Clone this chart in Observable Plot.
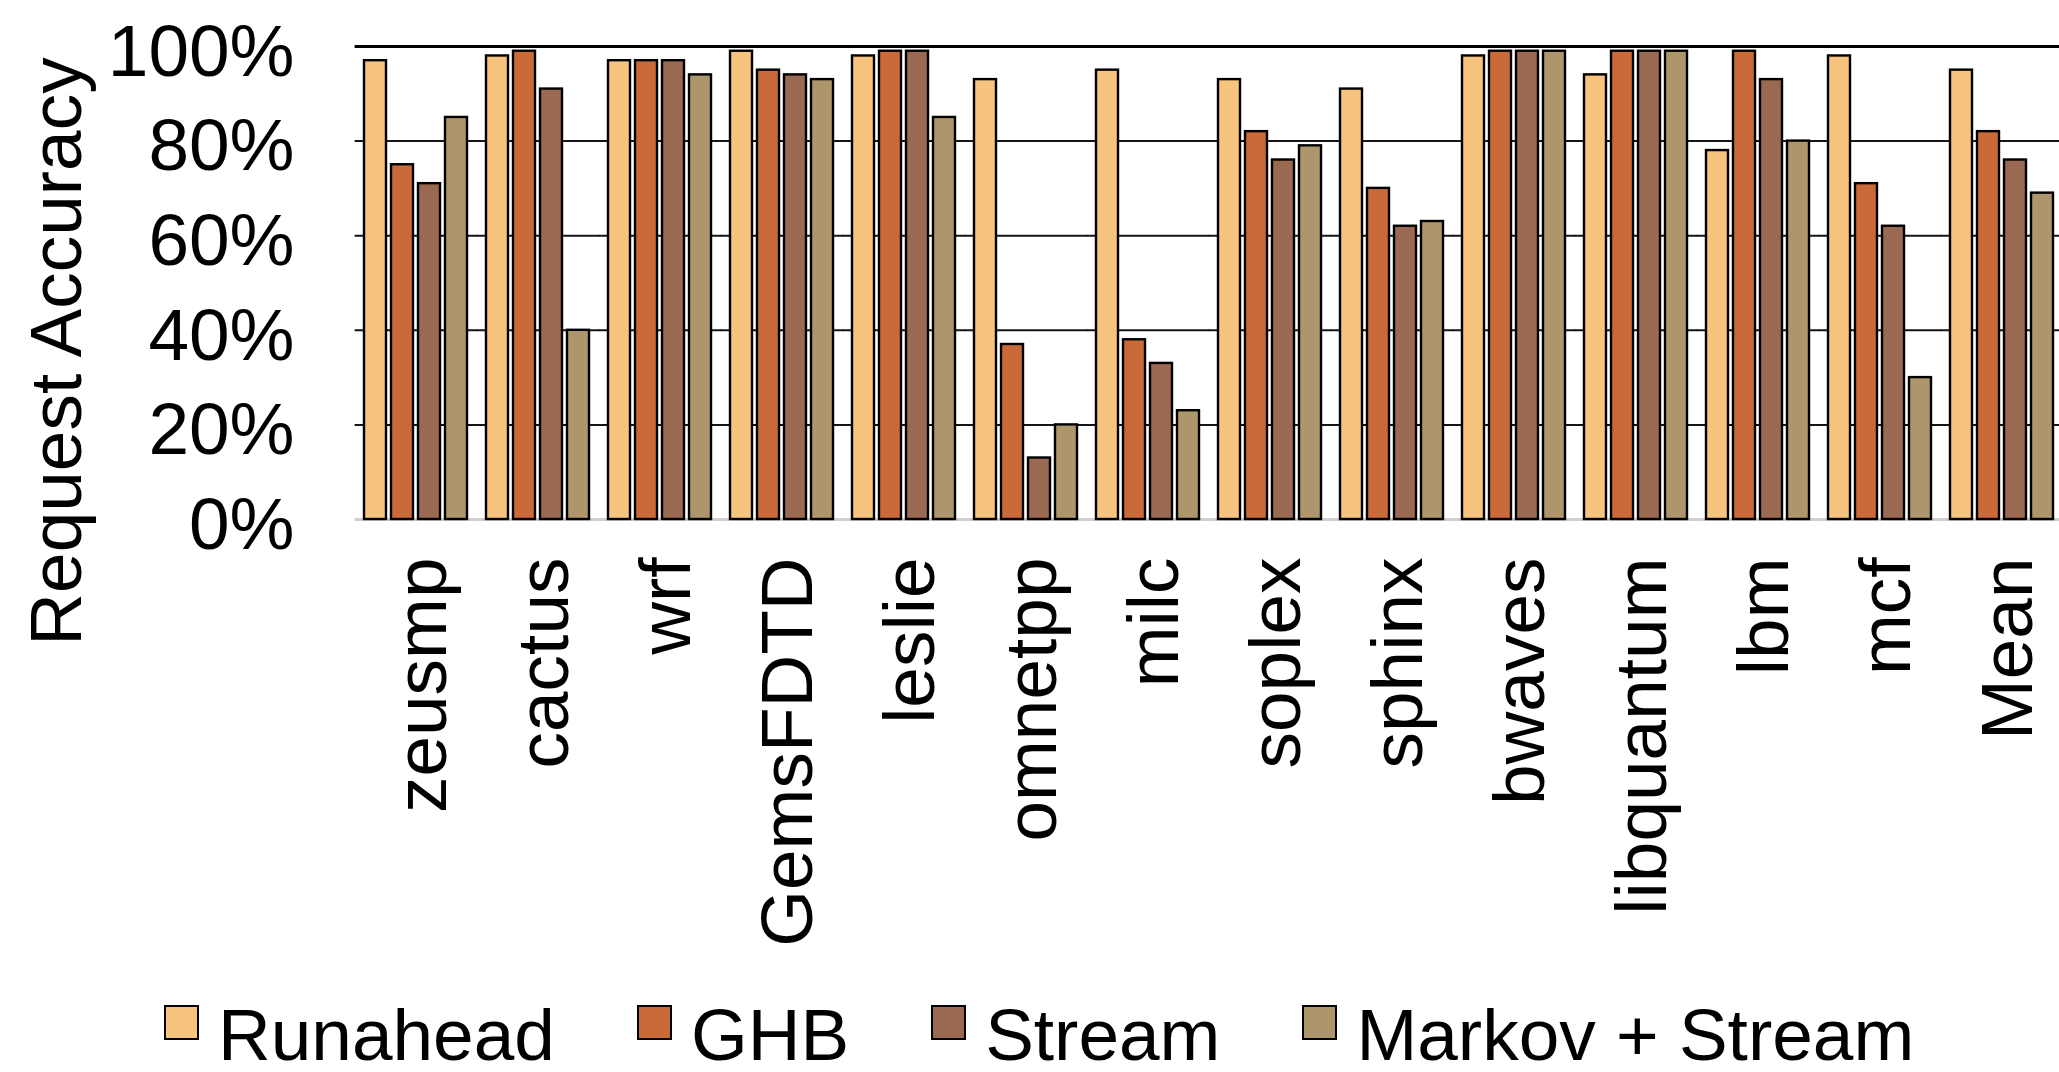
<!DOCTYPE html>
<html>
<head>
<meta charset="utf-8">
<script src="https://cdn.jsdelivr.net/npm/d3@7"></script>
<script src="https://cdn.jsdelivr.net/npm/@observablehq/plot@0.6"></script>
<style>
  html, body { margin: 0; padding: 0; background: #fff; overflow: hidden; }
  #wrap { position: relative; }
  #chart svg { display: block; max-width: none !important; }
  #ylabel { position: absolute; left: -295px; top: 314.5px; width: 700px; height: 73px; text-align: center;
            font-family: "Liberation Sans", Arial, Helvetica, sans-serif; font-size: 73px; line-height: 73px; color: #000;
            transform: rotate(-90deg); white-space: nowrap; }
  #legend { display: flex; align-items: flex-start; margin-left: 164px; margin-top: 8px;
            font-family: "Liberation Sans", Arial, Helvetica, sans-serif; font-size: 73px; line-height: 1; color: #000; gap: 82px; }
  #legend .item { display: flex; align-items: flex-start; white-space: nowrap; }
  #legend .sw { width: 31px; height: 31px; border: 2px solid #000; margin-top: 7px; margin-right: 19px; }
</style>
</head>
<body>
<div id="wrap">
  <div id="chart"></div>
  <div id="ylabel"></div>
</div>
<div id="legend"></div>
<script>
const benchmarks = ["zeusmp","cactus","wrf","GemsFDTD","leslie","omnetpp","milc","soplex","sphinx","bwaves","libquantum","lbm","mcf","Mean"];
const series = ["Runahead","GHB","Stream","Markov + Stream"];
const colors = ["#f6c47e","#ca6a38","#996a51","#ad966c"];
const runahead = [97, 98, 97, 99, 98, 93, 95, 93, 91, 98, 94, 78, 98, 95];
const ghb      = [75, 99, 97, 95, 99, 37, 38, 82, 70, 99, 99, 99, 71, 82];
const stream   = [71, 91, 97, 94, 99, 13, 33, 76, 62, 99, 99, 93, 62, 76];
const markov   = [85, 40, 94, 93, 85, 20, 23, 79, 63, 99, 99, 80, 30, 69];
const yTicks = [0, 20, 40, 60, 80, 100];
const yLabel = "Request Accuracy";

const seriesValues = [runahead, ghb, stream, markov];
const table = benchmarks.flatMap((b, i) => series.map((s, k) => ({bench: b, series: s, value: seriesValues[k][i]})));

// gridlines are drawn in every facet and stretched across the gap between facets
const gridExt = {insetLeft: -9.4, insetRight: -9.4};

const chart = Plot.plot({
  width: 2066,
  height: 990,
  marginLeft: 352,
  marginRight: 0,
  marginTop: 46,
  marginBottom: 471,
  style: {fontFamily: "'Liberation Sans', Arial, Helvetica, sans-serif", fontSize: "73px", color: "#000", background: "#fff", maxWidth: "none"},
  fx: {domain: benchmarks, paddingInner: 0.15, paddingOuter: 0.082, label: null},
  x: {domain: series, paddingInner: 0.18, paddingOuter: 0, axis: null},
  y: {domain: [0, 100], label: null},
  color: {domain: series, range: colors},
  marks: [
    Plot.ruleY(yTicks.filter(d => d > 0 && d < 100), {stroke: "#151515", strokeWidth: 2, ...gridExt}),
    Plot.ruleY(yTicks.filter(d => d === 100), {stroke: "#000", strokeWidth: 3, ...gridExt}),
    Plot.ruleY(yTicks.filter(d => d === 0), {stroke: "#cfcfcf", strokeWidth: 3, ...gridExt}),
    Plot.barY(table, {fx: "bench", x: "series", y: "value", fill: "series", stroke: "#000", strokeWidth: 2.4}),
    Plot.axisY({ticks: yTicks, tickFormat: d => d + "%", tickSize: 0, tickPadding: 70, dy: 6, label: null}),
    Plot.axisFx({anchor: "bottom", tickRotate: -90, tickSize: 0, tickPadding: 38, dx: 6, label: null})
  ]
});
document.getElementById("chart").appendChild(chart);
document.getElementById("ylabel").textContent = yLabel;

const legend = document.getElementById("legend");
series.forEach((s, k) => {
  const item = document.createElement("div");
  item.className = "item";
  const sw = document.createElement("div");
  sw.className = "sw";
  sw.style.background = colors[k];
  const t = document.createElement("span");
  t.textContent = s;
  item.appendChild(sw);
  item.appendChild(t);
  legend.appendChild(item);
});
</script>
</body>
</html>
